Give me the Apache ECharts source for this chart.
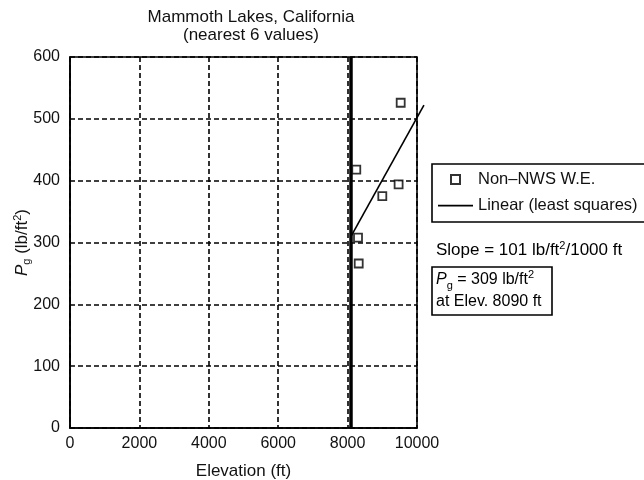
<!DOCTYPE html>
<html>
<head>
<meta charset="utf-8">
<script src="https://cdn.jsdelivr.net/npm/echarts@6/dist/echarts.min.js"></script>
<style>
  html, body { margin: 0; padding: 0; background: #fff; }
  #chart { width: 644px; height: 480px; }
</style>
</head>
<body>
<div id="chart"></div>
<script>
// Non-NWS water-equivalent ground snow loads near Mammoth Lakes
const elevations = [8250, 8300, 8320, 9000, 9470, 9530];   // ft
const groundLoads = [418, 308, 266, 375, 394, 526];         // lb/ft^2

// Least-squares fit, drawn from the site elevation to its right end
const fitElevations = [8090, 10200];
const fitLoads = [309, 522];

// Site elevation marker and fit summary
const siteElevation = 8090;
const siteLoad = 309;
const fitSlope = 101; // lb/ft^2 per 1000 ft

// Axis ticks
const xTicks = [0, 2000, 4000, 6000, 8000, 10000];
const yTicks = [0, 100, 200, 300, 400, 500, 600];

const FONT = "'Liberation Sans', Arial, Helvetica, sans-serif";
const INK = '#111';
const SCATTER_NAME = 'Non\u2013NWS W.E.';
const FIT_NAME = 'Linear (least squares)';

const chart = echarts.init(document.getElementById('chart'), null, { renderer: 'canvas' });

const scatterData = elevations.map((e, i) => [e, groundLoads[i]]);
const fitData = [[fitElevations[0], fitLoads[0], fitElevations[1], fitLoads[1]]];

const dashed = { color: '#000', width: 1.6, type: [5, 3] };

// rich-text pieces: italic P, subscript g, superscript 2
function richStyles(size, lh) {
  return {
    p: { fontFamily: FONT, fontSize: size, fontStyle: 'italic', color: INK, lineHeight: lh, verticalAlign: 'middle' },
    g: { fontFamily: FONT, fontSize: 11, color: INK, lineHeight: 11, verticalAlign: 'bottom' },
    s: { fontFamily: FONT, fontSize: 11, color: INK, lineHeight: 11, verticalAlign: 'top' },
    t: { fontFamily: FONT, fontSize: size, color: INK, lineHeight: lh, verticalAlign: 'middle' }
  };
}

chart.setOption({
  animation: false,
  backgroundColor: '#fff',
  textStyle: { fontFamily: FONT, color: INK },
  title: {
    text: 'Mammoth Lakes, California\n(nearest 6 values)',
    left: 246,
    top: 4,
    textAlign: 'center',
    textStyle: { fontFamily: FONT, fontSize: 17, fontWeight: 'normal', color: INK, lineHeight: 17.5 }
  },
  grid: {
    left: 70, right: 227, top: 57, bottom: 52,
    containLabel: false,
    outerBoundsMode: 'none',
    show: true, borderColor: '#000', borderWidth: 1.6, backgroundColor: 'transparent'
  },
  legend: {
    orient: 'vertical',
    left: 432,
    top: 164,
    padding: [7, 30, 8, 6],
    itemWidth: 35,
    itemHeight: 9,
    itemGap: 9,
    borderColor: '#000',
    borderWidth: 1.6,
    textStyle: { fontFamily: FONT, fontSize: 16.5, color: INK, lineHeight: 16 },
    data: [
      { name: SCATTER_NAME, icon: 'path://M0,0H10V10H0Z' },
      { name: FIT_NAME, icon: 'path://M0,0H40V2H0Z' }
    ]
  },
  xAxis: {
    type: 'value',
    min: xTicks[0],
    max: xTicks[xTicks.length - 1],
    interval: xTicks[1] - xTicks[0],
    name: 'Elevation (ft)',
    nameLocation: 'middle',
    nameGap: 35,
    nameMoveOverlap: false,
    nameTextStyle: { fontFamily: FONT, fontSize: 17, color: INK },
    axisLine: { show: true, lineStyle: { color: '#000', width: 1.6 } },
    axisTick: { show: false },
    axisLabel: { fontFamily: FONT, fontSize: 16, color: INK, margin: 8, formatter: v => String(v) },
    splitLine: { show: true, lineStyle: dashed }
  },
  yAxis: {
    type: 'value',
    min: yTicks[0],
    max: yTicks[yTicks.length - 1],
    interval: yTicks[1] - yTicks[0],
    name: '{p|P}{g|g}{t| (lb/ft}{s|2}{t|)}',
    nameLocation: 'middle',
    nameRotate: 90,
    nameGap: 38,
    nameMoveOverlap: false,
    nameTextStyle: { fontFamily: FONT, rich: richStyles(17, 20) },
    axisLine: { show: true, lineStyle: { color: '#000', width: 1.6 } },
    axisTick: { show: false },
    axisLabel: { fontFamily: FONT, fontSize: 16, color: INK, margin: 10, formatter: v => String(v) },
    splitLine: { show: true, lineStyle: dashed }
  },
  series: [
    {
      name: SCATTER_NAME,
      type: 'scatter',
      data: scatterData,
      symbol: 'rect',
      symbolSize: 8,
      itemStyle: { color: '#fff', borderColor: '#000', borderWidth: 1.8 },
      z: 5,
      markLine: {
        silent: true,
        symbol: 'none',
        label: { show: false },
        lineStyle: { color: '#000', width: 3.5, type: 'solid' },
        data: [{ xAxis: siteElevation }],
        z: 3
      }
    },
    {
      name: FIT_NAME,
      type: 'custom',
      data: fitData,
      clip: false,
      encode: { x: [0, 2], y: [1, 3] },
      itemStyle: { color: '#000' },
      z: 4,
      renderItem: function (params, api) {
        const a = api.coord([api.value(0), api.value(1)]);
        const b = api.coord([api.value(2), api.value(3)]);
        return {
          type: 'line',
          shape: { x1: a[0], y1: a[1], x2: b[0], y2: b[1] },
          style: { stroke: '#000', lineWidth: 1.6, fill: null }
        };
      }
    }
  ],
  graphic: [
    {
      type: 'text',
      x: 436,
      y: 240,
      style: {
        text: '{t|Slope = ' + fitSlope + ' lb/ft}{s|2}{t|/1000 ft}',
        rich: richStyles(17, 20)
      }
    },
    {
      type: 'rect',
      shape: { x: 432, y: 267, width: 120, height: 48 },
      style: { fill: 'none', stroke: '#000', lineWidth: 1.6 }
    },
    {
      type: 'text',
      x: 436,
      y: 269,
      style: {
        text: '{p|P}{g|g}{t| = ' + siteLoad + ' lb/ft}{s|2}\n{t|at Elev. ' + siteElevation + ' ft}',
        rich: richStyles(16, 22)
      }
    }
  ]
});
</script>
</body>
</html>
